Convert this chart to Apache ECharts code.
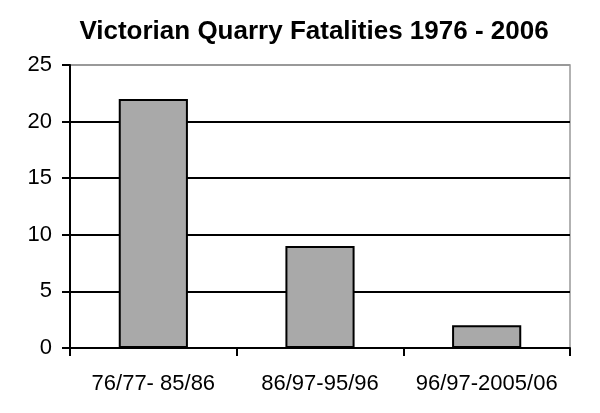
<!DOCTYPE html>
<html>
<head>
<meta charset="utf-8">
<script src="https://cdn.jsdelivr.net/npm/echarts@6/dist/echarts.min.js"></script>
<style>html,body{margin:0;padding:0;background:#fff;}#c{width:600px;height:413px;}</style>
</head>
<body>
<div id="c"></div>
<script>
const titleText = 'Victorian Quarry Fatalities 1976 - 2006';
const categories = ['76/77- 85/86', '86/97-95/96', '96/97-2005/06'];
const fatalities = [22, 9, 2];
const yTicks = { min: 0, max: 25, interval: 5 };

const chart = echarts.init(document.getElementById('c'), null, { renderer: 'canvas' });
chart.setOption({
  animation: false,
  backgroundColor: '#fff',
  title: {
    text: titleText,
    left: 309, top: 14, textAlign: 'center',
    textStyle: { fontFamily: 'Liberation Sans, Arial', fontWeight: 'bold', fontSize: 26, color: '#000' }
  },
  grid: { left: 70, right: 30, top: 65, bottom: 65, show: true, borderColor: '#999', borderWidth: 1.5, backgroundColor: 'transparent' },
  xAxis: {
    type: 'category',
    data: categories,
    axisLine: { lineStyle: { color: '#000', width: 2 } },
    axisTick: { show: true, length: 8, lineStyle: { color: '#000', width: 2 } },
    axisLabel: { color: '#000', fontFamily: 'Liberation Sans, Arial', fontSize: 22, margin: 25, interval: 0, hideOverlap: false },
    splitLine: { show: false }
  },
  yAxis: {
    type: 'value',
    min: yTicks.min, max: yTicks.max, interval: yTicks.interval,
    axisLine: { show: true, lineStyle: { color: '#000', width: 2 } },
    axisTick: { show: true, length: 8, lineStyle: { color: '#000', width: 2 } },
    axisLabel: { color: '#000', fontFamily: 'Liberation Sans, Arial', fontSize: 22, margin: 18 },
    splitLine: { show: true, lineStyle: { color: ['#000', '#000', '#000', '#000', '#000', '#999'], width: 2 } }
  },
  series: [{
    type: 'bar',
    data: fatalities,
    barWidth: '41.5%',
    itemStyle: { color: '#a9a9a9', borderColor: '#000', borderWidth: 2 }
  }]
});
</script>
</body>
</html>
